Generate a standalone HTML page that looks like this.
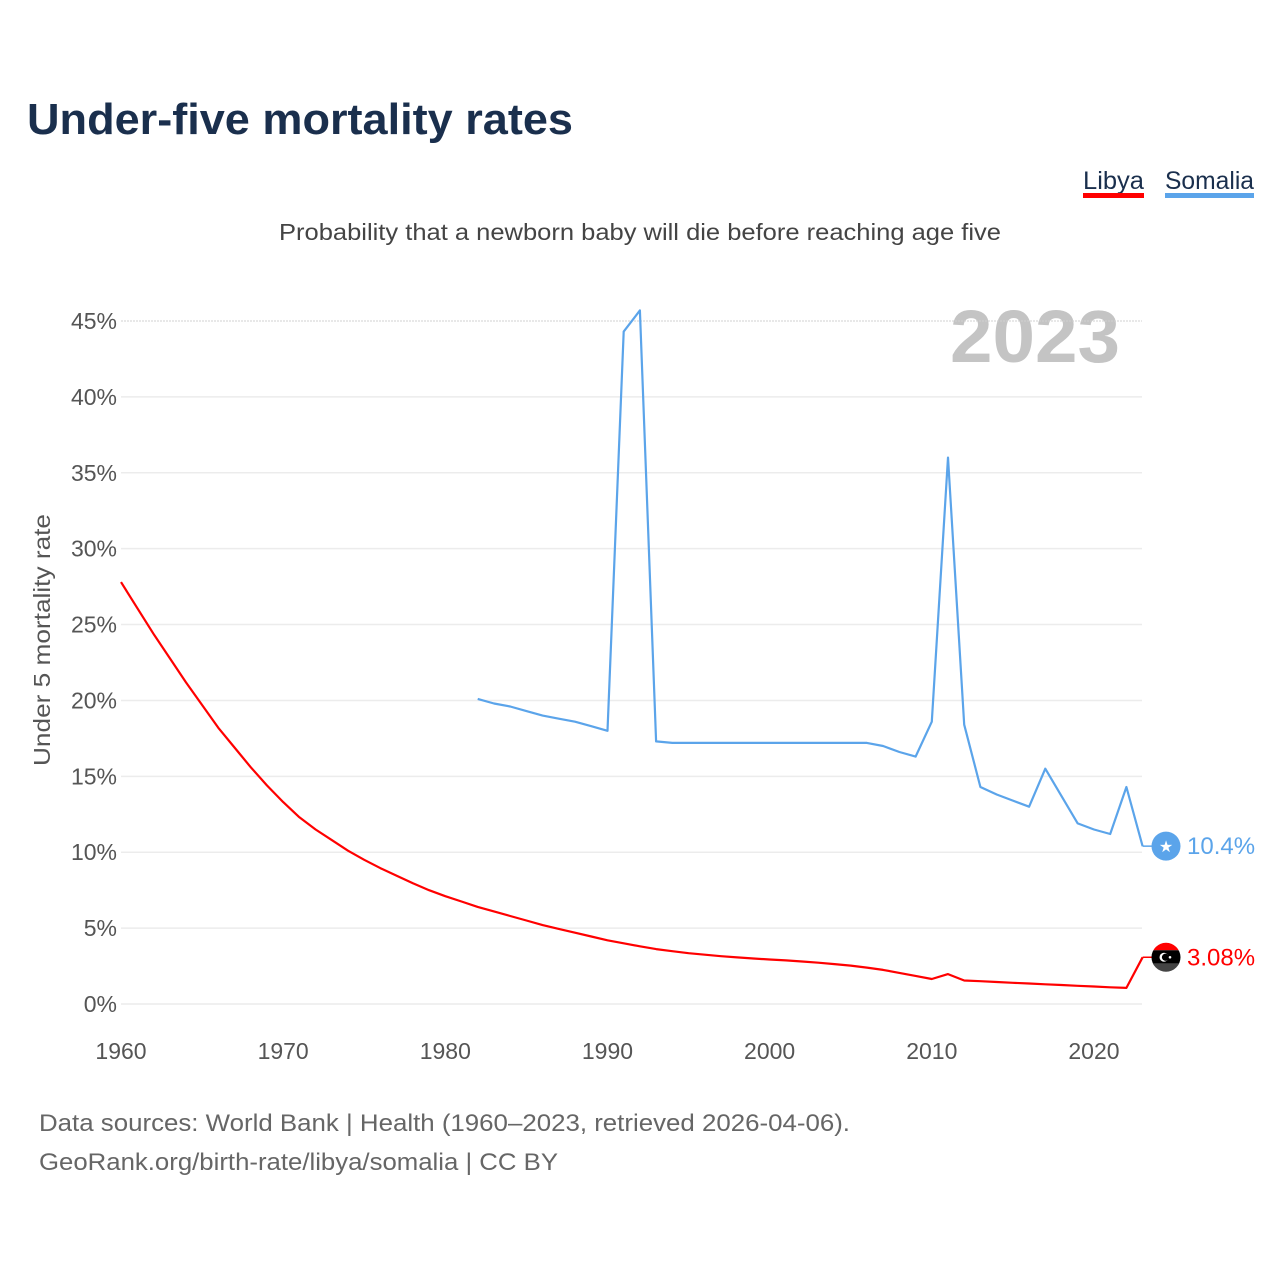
<!DOCTYPE html>
<html><head><meta charset="utf-8"><style>
html,body{margin:0;padding:0;background:#fff;}
svg{display:block;font-family:"Liberation Sans",sans-serif;}
</style></head><body>
<svg id="chart" width="1280" height="1280" viewBox="0 0 1280 1280">
<text x="27" y="134" font-size="44" font-weight="bold" fill="#1a2f4d" textLength="546" lengthAdjust="spacingAndGlyphs">Under-five mortality rates</text>
<g>
<g><text x="1083" y="189" font-size="25" fill="#1a2f4d" textLength="61" lengthAdjust="spacingAndGlyphs">Libya</text><rect x="1083" y="193" width="61" height="5" fill="#ff0000"/></g>
<g><text x="1165" y="189" font-size="25" fill="#1a2f4d" textLength="89" lengthAdjust="spacingAndGlyphs">Somalia</text><rect x="1165" y="193" width="89" height="5" fill="#5ba4ea"/></g>
</g>
<text x="640" y="240" font-size="23" fill="#444" text-anchor="middle" textLength="722" lengthAdjust="spacingAndGlyphs">Probability that a newborn baby will die before reaching age five</text>
<text x="1120" y="362" font-size="74" font-weight="bold" fill="#c4c4c4" text-anchor="end" textLength="170" lengthAdjust="spacingAndGlyphs">2023</text>
<text transform="translate(50,640) rotate(-90)" font-size="23" fill="#555" text-anchor="middle" textLength="252" lengthAdjust="spacingAndGlyphs">Under 5 mortality rate</text>
<g id="grid"></g><g id="yticks"></g><g id="xticks"></g><g id="series"></g><g id="ends"></g>
<text x="39" y="1131" font-size="24" fill="#666" textLength="811" lengthAdjust="spacingAndGlyphs">Data sources: World Bank | Health (1960–2023, retrieved 2026-04-06).</text>
<text x="39" y="1170" font-size="24" fill="#666" textLength="519" lengthAdjust="spacingAndGlyphs">GeoRank.org/birth-rate/libya/somalia | CC BY</text>
</svg>
<script>
const yTicks=[0,5,10,15,20,25,30,35,40,45];
const xTicks=[1960,1970,1980,1990,2000,2010,2020];
const libyaYears=[];for(let y=1960;y<=2023;y++)libyaYears.push(y);
const libyaValues=[27.8,26.1,24.4,22.8,21.2,19.7,18.2,16.9,15.6,14.4,13.3,12.3,11.5,10.8,10.1,9.5,8.95,8.45,7.95,7.5,7.1,6.75,6.4,6.1,5.8,5.5,5.2,4.95,4.7,4.45,4.2,4.0,3.8,3.62,3.48,3.35,3.25,3.15,3.07,3.0,2.93,2.87,2.8,2.72,2.63,2.53,2.4,2.25,2.05,1.85,1.65,1.97,1.55,1.5,1.45,1.4,1.35,1.3,1.25,1.2,1.15,1.1,1.06,3.08];
const somaliaYears=[];for(let y=1982;y<=2023;y++)somaliaYears.push(y);
const somaliaValues=[20.1,19.8,19.6,19.3,19.0,18.8,18.6,18.3,18.0,44.3,45.7,17.3,17.2,17.2,17.2,17.2,17.2,17.2,17.2,17.2,17.2,17.2,17.2,17.2,17.2,17.0,16.6,16.3,18.6,36.0,18.4,14.3,13.8,13.4,13.0,15.5,13.7,11.9,11.5,11.2,14.3,10.4];
const endLabels=["3.08%","10.4%"];
const NS="http://www.w3.org/2000/svg";
const X=y=>121+(1142.6-121)*(y-1960)/63;
const Y=v=>1004-v*(683/45);
function mk(t,a,p){const e=document.createElementNS(NS,t);for(const k in a)e.setAttribute(k,a[k]);p.appendChild(e);return e;}
const grid=document.getElementById('grid'),yt=document.getElementById('yticks'),xt=document.getElementById('xticks');
yTicks.forEach(v=>{
 const l=mk('line',{x1:121,x2:1142,y1:Y(v),y2:Y(v),stroke:v==45?'#d0d0d0':'#ececec','stroke-width':v==45?1:1.5,'stroke-dasharray':v==45?'2,1':'none'},grid);
 
 
 const t=mk('text',{x:117,y:Y(v)+8,'font-size':23,fill:'#555','text-anchor':'end'},yt);t.textContent=v+'%';
 
 
});
xTicks.forEach(y=>{
 const t=mk('text',{x:X(y),y:1059,'font-size':23,fill:'#555','text-anchor':'middle'},xt);t.textContent=y;
 
 
});
const s=document.getElementById('series');
function line(years,vals,col,name){
 const p=mk('polyline',{points:years.map((y,i)=>X(y).toFixed(1)+','+Y(vals[i]).toFixed(1)).join(' '),fill:'none',stroke:col,'stroke-width':2.2,'stroke-linejoin':'round'},s);
 
 
}
line(libyaYears,libyaValues,'#ff0000','libya-line');
line(somaliaYears,somaliaValues,'#5ba4ea','somalia-line');
const ends=document.getElementById('ends');
function endMark(v,col,label,name,flag){
 const g=mk('g',{},ends);
 
 
 const yy=Y(v);
 mk('line',{x1:1142.6,x2:1152,y1:yy,y2:yy,stroke:col,'stroke-width':1.5},g);
 flag(g,yy);
 const t=mk('text',{x:1187,y:yy+8,'font-size':24,fill:col},g);t.textContent=label;
}
endMark(somaliaValues[somaliaValues.length-1],'#5ba4ea',endLabels[1],'somalia-end-label',(g,yy)=>{
 mk('circle',{cx:1166,cy:yy,r:14.5,fill:'#5ba4ea'},g);
 const t=mk('text',{x:1166,y:yy+6,'font-size':16,fill:'#fff','text-anchor':'middle'},g);t.textContent='★';
});
endMark(libyaValues[libyaValues.length-1],'#ff0000',endLabels[0],'libya-end-label',(g,yy)=>{
 const c=mk('clipPath',{id:'lc'},g);mk('circle',{cx:1166,cy:yy,r:14.5},c);
 const f=mk('g',{'clip-path':'url(#lc)'},g);
 mk('rect',{x:1150,y:yy-15,width:32,height:8,fill:'#ff0000'},f);
 mk('rect',{x:1150,y:yy-7,width:32,height:15,fill:'#000'},f);
 mk('rect',{x:1150,y:yy+6,width:32,height:9,fill:'#444'},f);
 mk('circle',{cx:1164,cy:yy,r:4.5,fill:'#fff'},g);mk('circle',{cx:1165.5,cy:yy,r:3.6,fill:'#000'},g);
 mk('circle',{cx:1170,cy:yy,r:1.3,fill:'#fff'},g);
});
</script>
</body></html>
